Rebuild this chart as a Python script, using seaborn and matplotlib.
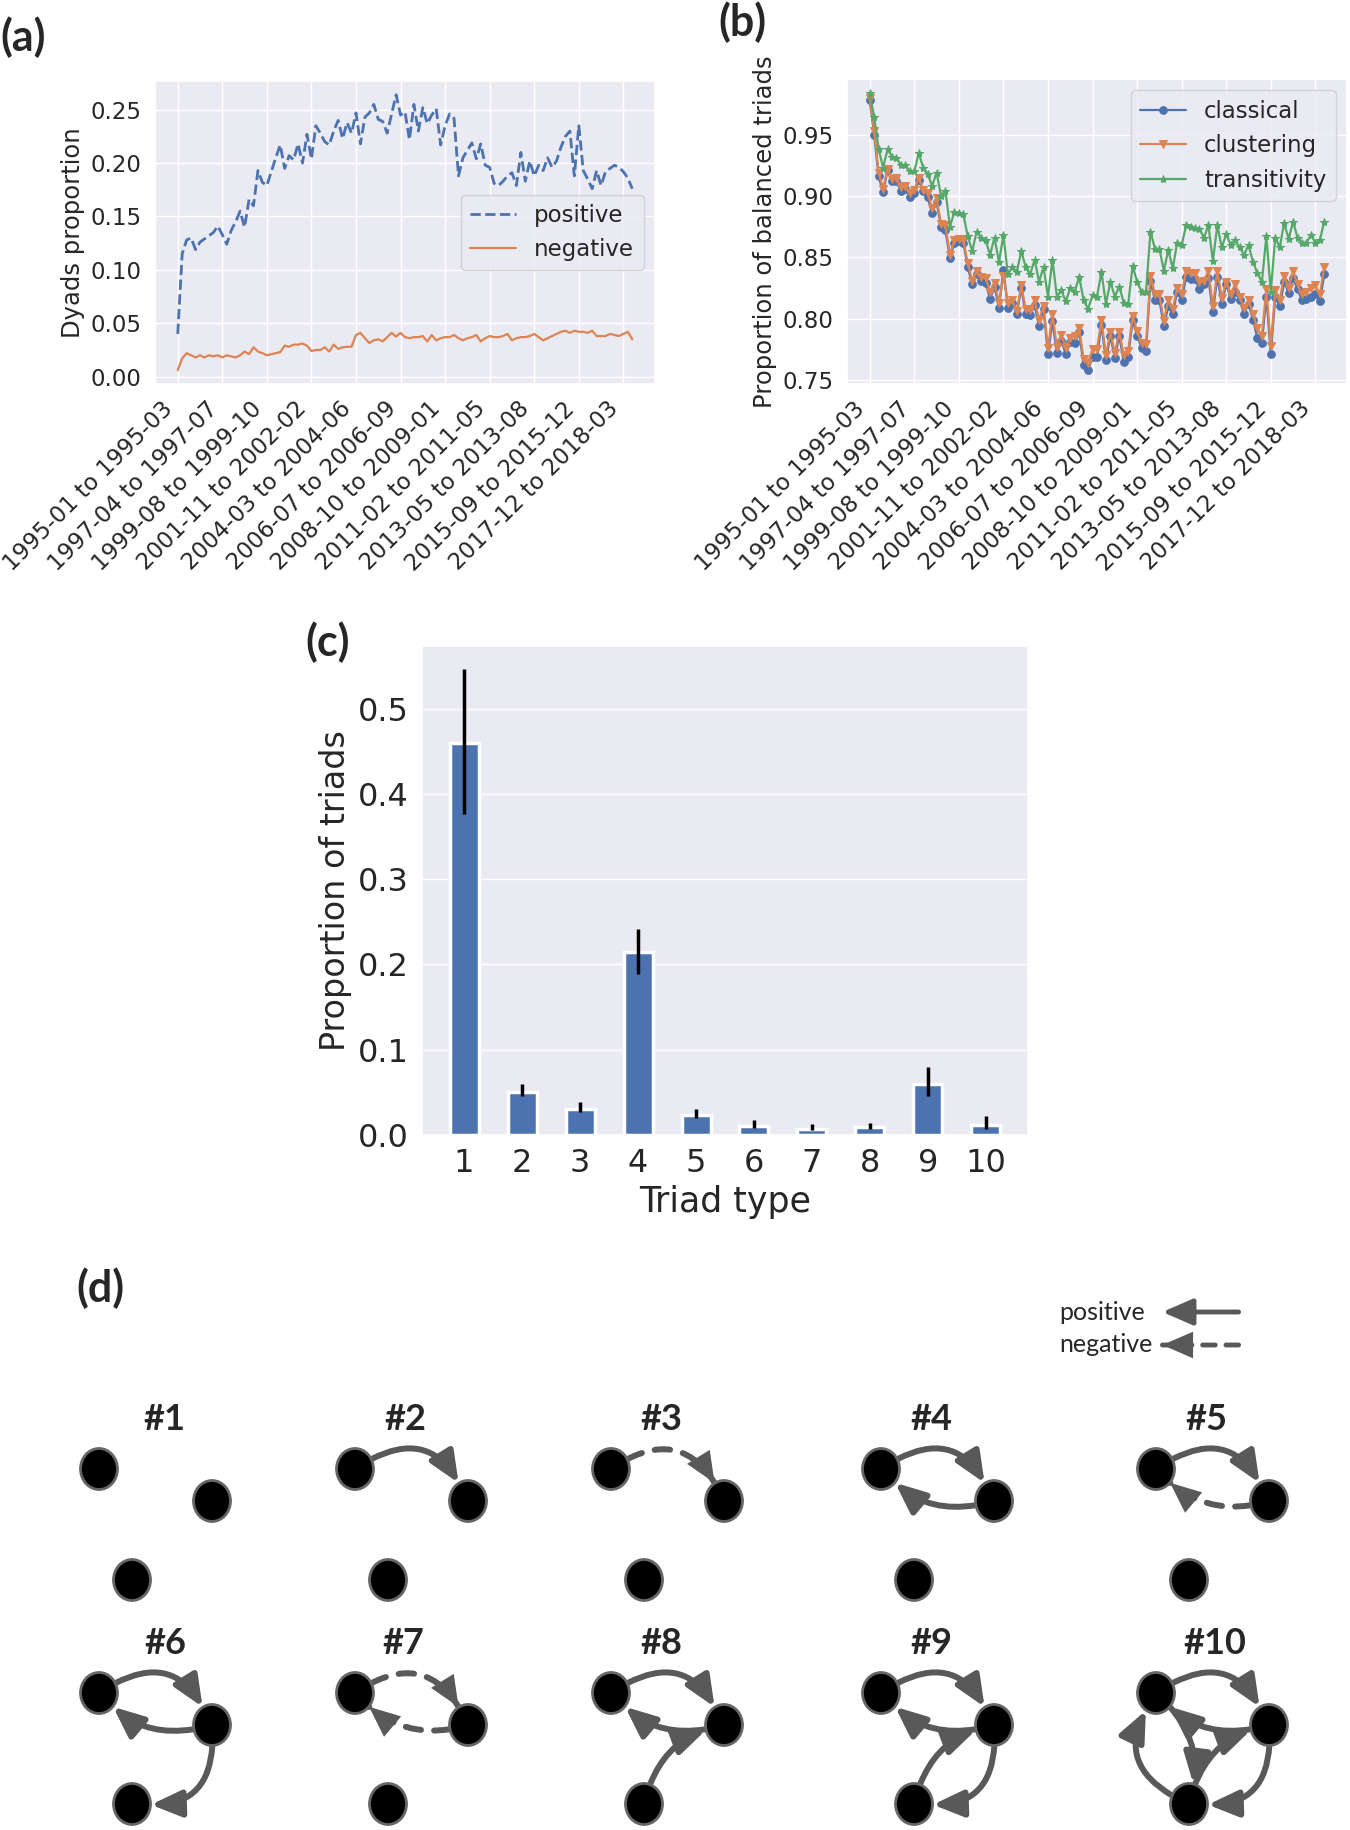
import numpy as np
import matplotlib
matplotlib.use("Agg")
import matplotlib.pyplot as plt
import seaborn as sns
from matplotlib.patches import Ellipse, FancyArrowPatch

# ---------------- data ----------------
period_ticks = [
    "1995-01 to 1995-03", "1997-04 to 1997-07", "1999-08 to 1999-10",
    "2001-11 to 2002-02", "2004-03 to 2004-06", "2006-07 to 2006-09",
    "2008-10 to 2009-01", "2011-02 to 2011-05", "2013-05 to 2013-08",
    "2015-09 to 2015-12", "2017-12 to 2018-03",
]

dyads_positive = [
    0.040, 0.115, 0.128, 0.130, 0.119, 0.126, 0.129, 0.132, 0.135, 0.141,
    0.133, 0.124, 0.137, 0.145, 0.155, 0.140, 0.166, 0.160, 0.193, 0.182,
    0.179, 0.192, 0.205, 0.217, 0.195, 0.207, 0.203, 0.218, 0.200, 0.227,
    0.204, 0.235, 0.228, 0.220, 0.217, 0.230, 0.240, 0.223, 0.238, 0.228,
    0.247, 0.218, 0.243, 0.247, 0.255, 0.241, 0.239, 0.228, 0.246, 0.264,
    0.245, 0.248, 0.222, 0.255, 0.230, 0.252, 0.237, 0.245, 0.251, 0.217,
    0.235, 0.246, 0.242, 0.188, 0.205, 0.212, 0.219, 0.204, 0.218, 0.198,
    0.196, 0.181, 0.179, 0.183, 0.188, 0.191, 0.179, 0.210, 0.183, 0.202,
    0.188, 0.198, 0.193, 0.205, 0.196, 0.202, 0.215, 0.225, 0.230, 0.188,
    0.235, 0.193, 0.185, 0.176, 0.193, 0.179, 0.192, 0.195, 0.198, 0.196,
    0.192, 0.186, 0.176,
]

dyads_negative = [
    0.006, 0.017, 0.022, 0.020, 0.018, 0.020, 0.018, 0.020, 0.019, 0.020,
    0.018, 0.020, 0.019, 0.018, 0.020, 0.0235, 0.021, 0.0275, 0.0235, 0.022,
    0.020, 0.021, 0.022, 0.023, 0.029, 0.028, 0.030, 0.030, 0.031, 0.029,
    0.024, 0.025, 0.025, 0.0275, 0.0235, 0.030, 0.026, 0.0275, 0.028, 0.028,
    0.039, 0.041, 0.036, 0.0315, 0.034, 0.035, 0.033, 0.037, 0.041, 0.0375,
    0.041, 0.037, 0.036, 0.037, 0.037, 0.038, 0.033, 0.039, 0.034, 0.036,
    0.037, 0.037, 0.039, 0.036, 0.034, 0.036, 0.037, 0.039, 0.033, 0.036,
    0.038, 0.037, 0.037, 0.038, 0.040, 0.034, 0.036, 0.037, 0.037, 0.038,
    0.040, 0.037, 0.034, 0.036, 0.038, 0.040, 0.042, 0.043, 0.041, 0.043,
    0.042, 0.042, 0.041, 0.043, 0.038, 0.038, 0.038, 0.040, 0.039, 0.038,
    0.040, 0.042, 0.035,
]

balanced_classical = [
    0.978, 0.950, 0.916, 0.903, 0.921, 0.912, 0.912, 0.904, 0.906, 0.899,
    0.902, 0.913, 0.904, 0.899, 0.886, 0.895, 0.875, 0.872, 0.849, 0.862,
    0.863, 0.862, 0.842, 0.828, 0.836, 0.831, 0.829, 0.816, 0.826, 0.809,
    0.840, 0.809, 0.813, 0.804, 0.825, 0.804, 0.803, 0.811, 0.794, 0.808,
    0.771, 0.798, 0.772, 0.782, 0.771, 0.781, 0.780, 0.789, 0.762, 0.758,
    0.769, 0.769, 0.795, 0.766, 0.786, 0.768, 0.786, 0.765, 0.769, 0.799,
    0.786, 0.776, 0.774, 0.831, 0.815, 0.815, 0.794, 0.810, 0.804, 0.822,
    0.815, 0.834, 0.832, 0.832, 0.824, 0.828, 0.833, 0.805, 0.834, 0.812,
    0.828, 0.816, 0.822, 0.815, 0.804, 0.812, 0.799, 0.784, 0.780, 0.818,
    0.771, 0.818, 0.810, 0.830, 0.821, 0.833, 0.824, 0.815, 0.816, 0.818,
    0.820, 0.814, 0.836,
]

balanced_clustering = [
    0.980, 0.953, 0.919, 0.906, 0.922, 0.914, 0.915, 0.907, 0.908, 0.902,
    0.905, 0.915, 0.905, 0.902, 0.890, 0.898, 0.877, 0.876, 0.852, 0.864,
    0.865, 0.864, 0.845, 0.831, 0.839, 0.834, 0.833, 0.822, 0.829, 0.813,
    0.835, 0.813, 0.815, 0.806, 0.827, 0.808, 0.807, 0.815, 0.799, 0.810,
    0.776, 0.804, 0.777, 0.787, 0.776, 0.784, 0.786, 0.792, 0.767, 0.764,
    0.775, 0.775, 0.799, 0.770, 0.789, 0.772, 0.789, 0.770, 0.774, 0.802,
    0.790, 0.780, 0.779, 0.835, 0.820, 0.820, 0.798, 0.815, 0.808, 0.825,
    0.820, 0.839, 0.837, 0.837, 0.830, 0.831, 0.839, 0.810, 0.839, 0.817,
    0.830, 0.820, 0.828, 0.818, 0.809, 0.815, 0.804, 0.792, 0.786, 0.824,
    0.778, 0.823, 0.815, 0.835, 0.825, 0.839, 0.828, 0.820, 0.822, 0.825,
    0.827, 0.820, 0.842,
]

balanced_transitivity = [
    0.984, 0.964, 0.938, 0.923, 0.938, 0.932, 0.931, 0.925, 0.925, 0.920,
    0.920, 0.935, 0.923, 0.918, 0.908, 0.919, 0.900, 0.904, 0.875, 0.887,
    0.886, 0.885, 0.867, 0.855, 0.871, 0.866, 0.864, 0.852, 0.866, 0.846,
    0.868, 0.836, 0.842, 0.838, 0.855, 0.842, 0.836, 0.848, 0.830, 0.842,
    0.818, 0.848, 0.818, 0.823, 0.814, 0.825, 0.822, 0.834, 0.815, 0.808,
    0.819, 0.818, 0.838, 0.812, 0.830, 0.818, 0.826, 0.813, 0.812, 0.843,
    0.830, 0.822, 0.822, 0.871, 0.857, 0.857, 0.839, 0.856, 0.841, 0.862,
    0.860, 0.876, 0.875, 0.874, 0.873, 0.866, 0.876, 0.847, 0.876, 0.858,
    0.869, 0.860, 0.864, 0.858, 0.852, 0.860, 0.846, 0.837, 0.830, 0.867,
    0.822, 0.866, 0.858, 0.878, 0.865, 0.879, 0.866, 0.862, 0.862, 0.868,
    0.862, 0.864, 0.879,
]

triad_types = [1, 2, 3, 4, 5, 6, 7, 8, 9, 10]
triad_prop = [0.459, 0.050, 0.031, 0.214, 0.023, 0.011, 0.0076, 0.009, 0.060, 0.012]
triad_low = [0.376, 0.046, 0.027, 0.189, 0.020, 0.0085, 0.0054, 0.0067, 0.046, 0.0076]
triad_high = [0.546, 0.060, 0.039, 0.242, 0.031, 0.017, 0.013, 0.014, 0.080, 0.022]

# triad motifs: node 0 = top left, 1 = right, 2 = bottom; (source, target, sign)
triad_edges = [
    [],
    [(0, 1, "+")],
    [(0, 1, "-")],
    [(0, 1, "+"), (1, 0, "+")],
    [(0, 1, "+"), (1, 0, "-")],
    [(0, 1, "+"), (1, 0, "+"), (1, 2, "+")],
    [(0, 1, "-"), (1, 0, "-")],
    [(0, 1, "+"), (1, 0, "+"), (2, 1, "+")],
    [(0, 1, "+"), (1, 0, "+"), (2, 1, "+"), (1, 2, "+")],
    [(0, 1, "+"), (1, 0, "+"), (2, 1, "+"), (1, 2, "+"), (0, 2, "+"), (2, 0, "+")],
]

# ---------------- figure ----------------
sns.set_theme(style="darkgrid")
plt.rcParams["font.family"] = ["DejaVu Sans"]
pal = sns.color_palette("deep")

W, H = 1350, 1830
fig = plt.figure(figsize=(W / 100, H / 100), dpi=100)


def box(left, top, right, bottom):
    return [left / W, 1 - bottom / H, (right - left) / W, (bottom - top) / H]


ax_a = fig.add_axes(box(155, 81, 655, 384))
ax_b = fig.add_axes(box(847, 79, 1347, 384))
ax_c = fig.add_axes(box(422, 646, 1028, 1135))
ax_d = fig.add_axes([0, 0, 1, (H - 1270) / H])

# (a) dyads
x_a = np.arange(len(dyads_positive))
sns.lineplot(x=x_a, y=dyads_positive, ax=ax_a, color=pal[0], lw=2,
             linestyle="--", label="positive")
sns.lineplot(x=np.arange(len(dyads_negative)), y=dyads_negative, ax=ax_a,
             color=pal[1], lw=1.6, label="negative")
ax_a.set_xticks(x_a[::10])
ax_a.set_xticklabels(period_ticks, rotation=45, ha="right")
ax_a.tick_params(labelsize=16.5)
ax_a.set_ylabel("Dyads proportion", fontsize=17.5)
ax_a.legend(loc="center right", fontsize=16.5)

# (b) balance
x_b = np.arange(len(balanced_classical))
for vals, name, mk, ms, col in [
    (balanced_classical, "classical", "o", 5.5, pal[0]),
    (balanced_clustering, "clustering", "v", 6, pal[1]),
    (balanced_transitivity, "transitivity", "*", 6, pal[2]),
]:
    sns.lineplot(x=x_b, y=vals, ax=ax_b, color=col, marker=mk, markersize=ms,
                 markeredgecolor=col, lw=1.6, label=name)
ax_b.set_xticks(x_b[::10])
ax_b.set_xticklabels(period_ticks, rotation=45, ha="right")
ax_b.tick_params(labelsize=16.5)
ax_b.set_ylabel("Proportion of balanced triads", fontsize=17.5)
ax_b.legend(loc="upper right", fontsize=16.5)

# (c) triad proportions
sns.barplot(x=triad_types, y=triad_prop, ax=ax_c, color=pal[0], saturation=1,
            width=0.5, edgecolor="white", linewidth=2.5, errorbar=None)
ax_c.vlines(np.arange(len(triad_types)), triad_low, triad_high, color="black", lw=2.5)
ax_c.set_xlim(-0.725, 9.725)
ax_c.set_ylim(0, max(triad_high) * 1.05)
ax_c.tick_params(labelsize=23)
ax_c.set_xlabel("Triad type", fontsize=25)
ax_c.set_ylabel("Proportion of triads", fontsize=24)

# (d) triad motifs
ax_d.set_xlim(0, W)
ax_d.set_ylim(H, 1270)
ax_d.axis("off")

col_x = [99, 355, 611, 881, 1156]
row_y = [1469, 1693]
node_offsets = [(0, 0), (113, 32), (33, 111)]
title_dx = [65, 50, 50, 50, 50, 66, 48, 50, 50, 59]
outer_edges = {(0, 1), (1, 2), (2, 0)}  # clockwise edges sit on the outside
edge_col = "#595959"
head = "-|>,head_length=1.15,head_width=0.5"


def draw_edge(p, q, sign, lw=4.3, patchA=None, patchB=None, rad=-0.35, scale=16):
    common = dict(patchA=patchA, patchB=patchB, connectionstyle=f"arc3,rad={rad}",
                  shrinkA=1, shrinkB=1, color=edge_col, zorder=2)
    if sign == "+":
        ax_d.add_patch(FancyArrowPatch(p, q, arrowstyle=head, mutation_scale=scale,
                                       lw=lw, **common))
    else:
        ax_d.add_patch(FancyArrowPatch(p, q, arrowstyle="-", lw=lw,
                                       linestyle=(0, (2.6, 2.2)), **common))
        # solid head on top of the dashed line
        ax_d.add_patch(FancyArrowPatch(p, q, arrowstyle=head, mutation_scale=scale * 1.2,
                                       lw=0, **common))


for k, edges in enumerate(triad_edges):
    r, c = divmod(k, 5)
    x0, y0 = col_x[c], row_y[r]
    pts = [(x0 + dx, y0 + dy) for dx, dy in node_offsets]
    nodes = []
    for p in pts:
        e = Ellipse(p, 37, 41, facecolor="black", edgecolor="#666666", lw=2, zorder=3)
        ax_d.add_patch(e)
        nodes.append(e)
    ax_d.text(x0 + title_dx[k], y0 - 49, f"#{k + 1}", ha="center", va="center",
              fontsize=26, fontweight="bold", family="Lato")
    for s, t, sign in edges:
        rad = -0.6 if (s, t) in outer_edges else -0.32
        draw_edge(pts[s], pts[t], sign, patchA=nodes[s], patchB=nodes[t], rad=rad)

# legend of edge signs
for txt, sign, y in [("positive", "+", 1312), ("negative", "-", 1345)]:
    ax_d.text(1059, y, txt, fontsize=18, family="Lato", va="center", ha="left")
    draw_edge((1240, y), (1161, y), sign, lw=3.5, rad=0)

# panel letters
for lab, x, y in [("(a)", 0, 37), ("(b)", 718, 22), ("(c)", 305, 642), ("(d)", 76, 1288)]:
    fig.text(x / W, 1 - y / H, lab, fontsize=31, fontweight="bold", family="Lato",
             ha="left", va="center")

fig.savefig("out.png", dpi=100)
